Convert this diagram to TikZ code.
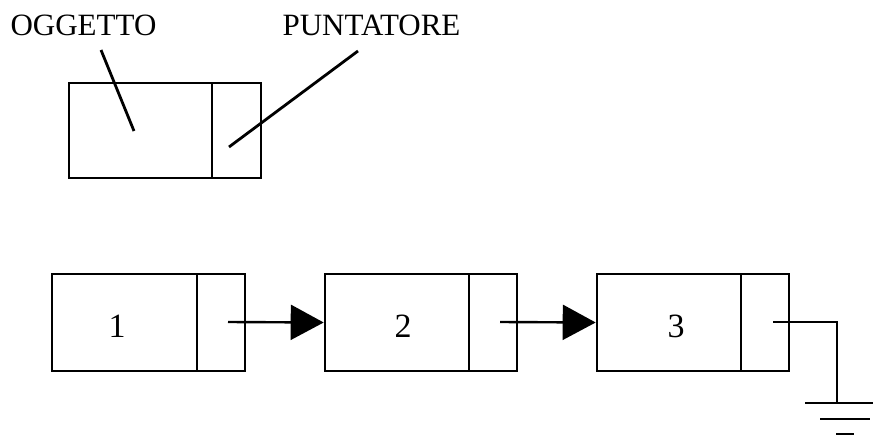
\documentclass[tikz,border=0pt]{standalone}
\usepackage{fontspec}
\setmainfont{Liberation Serif}
\usetikzlibrary{arrows.meta}
\begin{document}
\begin{tikzpicture}[x=1pt,y=-1pt,line width=2.6pt,
  datacell/.style={draw,rectangle,inner sep=0pt,minimum width=145pt,minimum height=97pt},
  ptrcell/.style={draw,rectangle,inner sep=0pt,minimum width=48pt,minimum height=97pt},
  label/.style={font=\fontsize{31}{31}\selectfont,anchor=base,inner sep=0pt},
  digit/.style={font=\fontsize{34}{34}\selectfont,anchor=base,inner sep=0pt},
  link/.style={-{Triangle[length=33pt,width=35pt]},line width=2.4pt},
  leader/.style={line width=2.8pt}]
\useasboundingbox (0,0) rectangle (873,439);

% single element: object field + pointer field
\node[datacell,minimum width=143pt,minimum height=95pt] (obj) at (140.5,130.5) {};
\node[ptrcell,minimum width=49pt,minimum height=95pt] (ptr) at (236.5,130.5) {};
\node[label] (lobj) at (83.5,35.5) {OGGETTO};
\node[label] (lptr) at (371.5,35.5) {PUNTATORE};
\coordinate (lobjend) at (101,50);
\coordinate (objin) at (134,131);
\coordinate (lptrend) at (358,51);
\coordinate (ptrin) at (229,147);
\draw[leader] (lobjend) -- (objin);
\draw[leader] (lptrend) -- (ptrin);

% linked list of three elements
\node[datacell] (d1) at (124.5,322.5) {};
\node[ptrcell] (p1) at (221,322.5) {};
\node[datacell,minimum width=144pt] (d2) at (397,322.5) {};
\node[ptrcell] (p2) at (493,322.5) {};
\node[datacell,minimum width=144pt] (d3) at (669,322.5) {};
\node[ptrcell] (p3) at (765,322.5) {};

\node[digit] (n1) at (117,337) {1};
\node[digit] (n2) at (403,337) {2};
\node[digit] (n3) at (676,337) {3};

\coordinate (s1) at (228,322);
\coordinate (s2) at (500,322);
\coordinate (s3) at (773,322);
\draw[link] (s1) -- (d2.west);
\draw[link] (s2) -- (d3.west);

% null pointer to ground
\coordinate (gnd) at (837,403);
\draw (s3) -- (837,322) -- (gnd);
\draw (805,403) -- (873,403);
\draw (820,419) -- (870,419);
\draw (836,434) -- (854,434);
\end{tikzpicture}
\end{document}
